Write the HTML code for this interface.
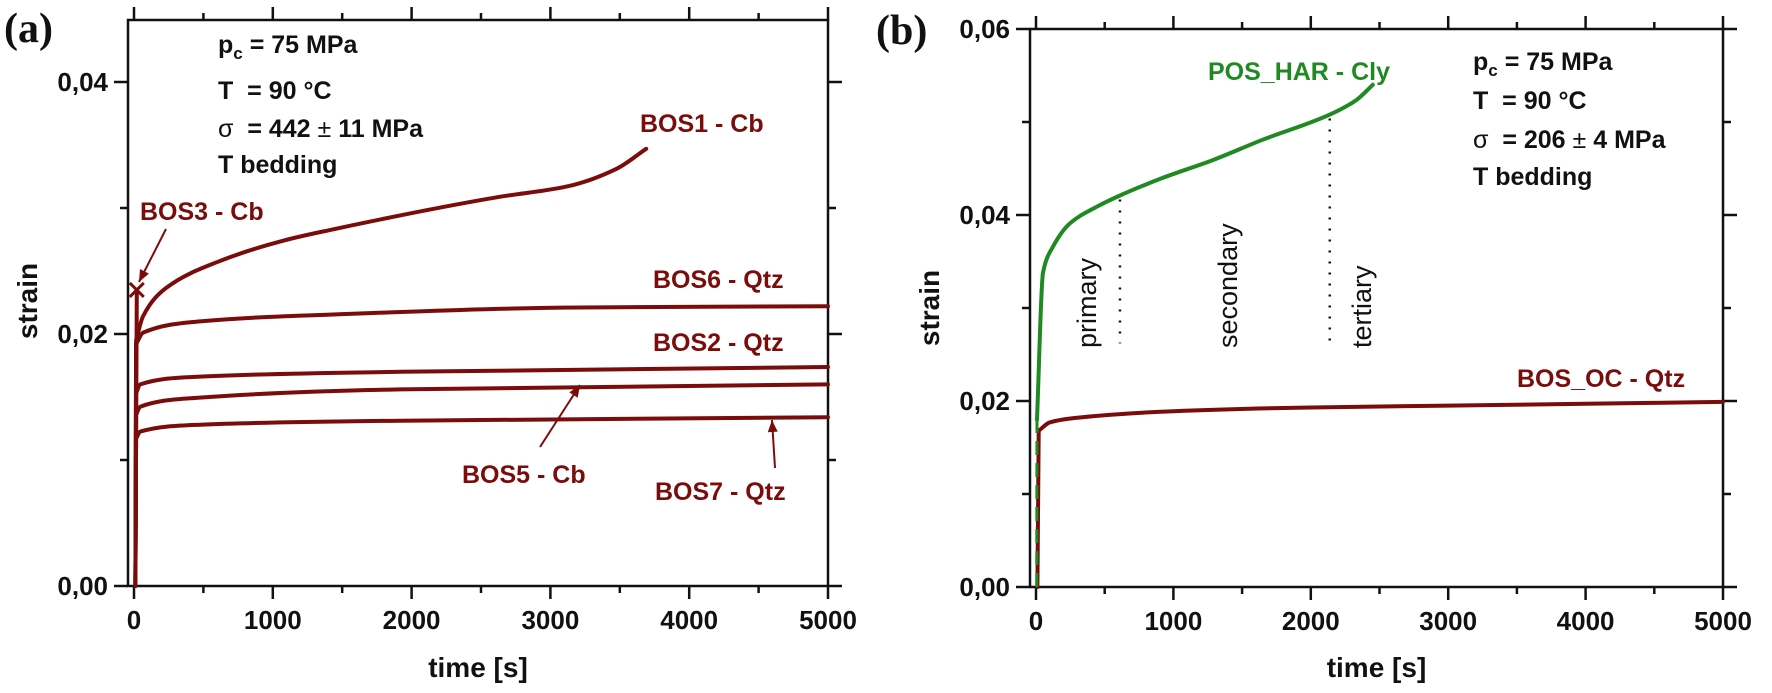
<!DOCTYPE html>
<html><head><meta charset="utf-8"><style>
html,body{margin:0;padding:0;background:#fff;}
svg{display:block;font-family:"Liberation Sans",Arial,sans-serif;}
.tick{font-size:26px;font-weight:bold;fill:#111;}
.title{font-size:28px;font-weight:bold;fill:#111;}
.ann{font-size:25px;font-weight:bold;fill:#111;}
.lbl{font-size:25px;font-weight:bold;fill:#7a0c0c;}
.phase{font-size:27px;fill:#111;}
</style></head><body>
<svg id="fig" width="1772" height="693" viewBox="0 0 1772 693">
<g id="pa"></g>
<g id="pb"></g>
</svg>
<script>
// ---- Panel (a) data ----
const aTime_BOS1 = [10, 15, 65, 237, 597, 1072, 1432, 2640, 3115, 3475, 3690];
const aStrain_BOS1 = [0, 0.0195, 0.0214, 0.0237, 0.0257, 0.0274, 0.0283, 0.0309, 0.0317, 0.0331, 0.0347];
const aTime_BOS6 = [10, 15, 65, 475, 1432, 3209, 5000];
const aStrain_BOS6 = [0, 0.0192, 0.0201, 0.0210, 0.02155, 0.0221, 0.0222];
const aTime_BOS2 = [10, 15, 45, 475, 1914, 5000];
const aStrain_BOS2 = [0, 0.0153, 0.0160, 0.01662, 0.0170, 0.01738];
const aTime_BOS5 = [10, 15, 45, 475, 1914, 5000];
const aStrain_BOS5 = [0, 0.0136, 0.01423, 0.01495, 0.0156, 0.0160];
const aTime_BOS7 = [10, 15, 45, 475, 1914, 5000];
const aStrain_BOS7 = [0, 0.0117, 0.01225, 0.0128, 0.01312, 0.0134];
const aTime_BOS3 = [10, 20];
const aStrain_BOS3 = [0, 0.0235];
const aYTicks = [0, 0.02, 0.04];
const aYTickLabels = ["0,00", "0,02", "0,04"];
const xTicks = [0, 1000, 2000, 3000, 4000, 5000];
const xTickLabels = ["0", "1000", "2000", "3000", "4000", "5000"];
// ---- Panel (b) data ----
const bTime_HAR = [5, 7, 51, 124, 247, 444, 611, 924, 1287, 1651, 2138, 2335, 2451];
const bStrain_HAR = [0.0, 0.018, 0.0338, 0.0366, 0.0391, 0.0409, 0.0421, 0.0440, 0.0459, 0.0481, 0.0508, 0.0524, 0.054];
const bTime_OC = [10, 20, 100, 300, 1000, 2000, 3000, 4000, 5000];
const bStrain_OC = [0, 0.0168, 0.0177, 0.0182, 0.0189, 0.0193, 0.0195, 0.0197, 0.0199];
const bPhaseBounds = [611, 2138];
const bYTicks = [0, 0.02, 0.04, 0.06];
const bYTickLabels = ["0,00", "0,02", "0,04", "0,06"];

const NS = "http://www.w3.org/2000/svg";
function mk(parent, tag, attrs, text){
  const e = document.createElementNS(NS, tag);
  for (const k in attrs) e.setAttribute(k, attrs[k]);
  if (text !== undefined) e.textContent = text;
  parent.appendChild(e);
  return e;
}
function axes(g, o){
  const sx = t => o.x0 + t * o.kx;
  const sy = v => o.y0 - v * o.ky;
  const frame = mk(g, "rect", {x:o.left, y:o.top, width:o.right-o.left, height:o.y0-o.top, fill:"none", stroke:"#111", "stroke-width":2.5});
  
  
  for (let t = 0; t <= 5000; t += 500){
    const major = t % 1000 === 0, L = major ? 13 : 7;
    const x = sx(t);
    const tb = mk(g, "line", {x1:x, x2:x, y1:o.y0, y2:o.y0+L, stroke:"#111", "stroke-width":2.5});
    
    
    const tt = mk(g, "line", {x1:x, x2:x, y1:o.top, y2:o.top-L, stroke:"#111", "stroke-width":2.5});
    
    
  }
  xTicks.forEach((t, i) => {
    const lab = mk(g, "text", {x:sx(t), y:o.y0+43, "text-anchor":"middle", class:"tick"}, xTickLabels[i]);
    
    
  });
  for (let v = 0; v <= o.ymax + 1e-9; v += 0.01){
    const major = Math.round(v*100) % 2 === 0, L = major ? 14 : 8;
    const y = sy(v);
    const tl = mk(g, "line", {x1:o.left, x2:o.left-L, y1:y, y2:y, stroke:"#111", "stroke-width":2.5});
    
    
    const tr = mk(g, "line", {x1:o.right, x2:o.right+L, y1:y, y2:y, stroke:"#111", "stroke-width":2.5});
    
    
  }
  o.yt.forEach((v, i) => {
    const lab = mk(g, "text", {x:o.left-20, y:sy(v)+9, "text-anchor":"end", class:"tick"}, o.ytl[i]);
    
    
  });
  const xt = mk(g, "text", {x:(o.left+o.right)/2, y:677, "text-anchor":"middle", class:"title"}, "time [s]");
  
  
  const yt = mk(g, "text", {x:0, y:0, "text-anchor":"middle", class:"title", transform:`translate(${o.ytx},${o.yty}) rotate(-90)`}, "strain");
  
  
  return {sx, sy};
}
function monoPath(P){
  const n = P.length;
  if (n < 3) return P.map((p,i)=>(i?"L":"M")+p[0].toFixed(1)+","+p[1].toFixed(1)).join(" ");
  const d = [], m = [];
  for (let i = 0; i < n-1; i++) d.push((P[i+1][1]-P[i][1])/(P[i+1][0]-P[i][0]));
  m[0] = d[0]; m[n-1] = d[n-2];
  for (let i = 1; i < n-1; i++){
    if (d[i-1]*d[i] <= 0) m[i] = 0;
    else { const h0 = P[i][0]-P[i-1][0], h1 = P[i+1][0]-P[i][0];
      const w1 = 2*h1+h0, w2 = h1+2*h0; m[i] = (w1+w2)/(w1/d[i-1]+w2/d[i]); }
  }
  let s = "M" + P[0][0].toFixed(1) + "," + P[0][1].toFixed(1);
  for (let i = 0; i < n-1; i++){
    const h = P[i+1][0]-P[i][0];
    s += ` C${(P[i][0]+h/3).toFixed(1)},${(P[i][1]+m[i]*h/3).toFixed(1)} ${(P[i+1][0]-h/3).toFixed(1)},${(P[i+1][1]-m[i+1]*h/3).toFixed(1)} ${P[i+1][0].toFixed(1)},${P[i+1][1].toFixed(1)}`;
  }
  return s;
}
function series(g, s, ts, vs, color, name, extra, smoothAll){
  const pts = ts.map((t, i) => [s.sx(t), s.sy(vs[i])]);
  let d;
  if (smoothAll) d = monoPath(pts);
  else {
    d = "M" + pts[0][0].toFixed(1) + "," + pts[0][1].toFixed(1);
    if (pts.length > 1) d += " L" + monoPath(pts.slice(1)).slice(1);
  }
  const p = mk(g, "path", Object.assign({d, fill:"none", stroke:color, "stroke-width":4, "stroke-linejoin":"round", "stroke-linecap":"round"}, extra||{}));
  
  
  return p;
}
function text(g, x, y, cls, str, name, fill){
  const t = mk(g, "text", {x, y, class:cls});
  if (fill) t.setAttribute("style", "fill:" + fill);
  t.innerHTML = str;
  
  
  return t;
}
function arrow(g, x1, y1, x2, y2, color, name){
  const a = mk(g, "g", {});
  
  
  mk(a, "line", {x1, y1, x2, y2, stroke:color, "stroke-width":2});
  const ang = Math.atan2(y2-y1, x2-x1), L = 12, W = 5;
  const bx = x2 - L*Math.cos(ang), by = y2 - L*Math.sin(ang);
  const px = -Math.sin(ang)*W, py = Math.cos(ang)*W;
  mk(a, "polygon", {points:`${x2},${y2} ${bx+px},${by+py} ${bx-px},${by-py}`, fill:color});
}
const RED = "#7a0c0c", GREEN = "#1f8a22";

// ---- Panel A ----
const ga = document.getElementById("pa");
const sa = axes(ga, {x0:134, kx:0.1388, y0:586, ky:12600, left:128, right:828, top:20, ymax:0.04,
  yt:aYTicks, ytl:aYTickLabels, ytx:37, yty:301});
series(ga, sa, aTime_BOS7, aStrain_BOS7, RED, "series-bos7");
series(ga, sa, aTime_BOS5, aStrain_BOS5, RED, "series-bos5");
series(ga, sa, aTime_BOS2, aStrain_BOS2, RED, "series-bos2");
series(ga, sa, aTime_BOS6, aStrain_BOS6, RED, "series-bos6");
series(ga, sa, aTime_BOS1, aStrain_BOS1, RED, "series-bos1");
series(ga, sa, aTime_BOS3, aStrain_BOS3, RED, "series-bos3");
{
  const n = aTime_BOS3.length - 1, cx = sa.sx(aTime_BOS3[n]), cy = sa.sy(aStrain_BOS3[n]);
  const m = mk(ga, "path", {d:`M${cx-7},${cy-7} L${cx+7},${cy+7} M${cx+7},${cy-7} L${cx-7},${cy+7}`, stroke:RED, "stroke-width":3});
  
  
}
text(ga, 218, 53, "ann", 'p<tspan font-size="17" dy="6">c</tspan><tspan dy="-6"> = 75 MPa</tspan>', "annotation-pc");
text(ga, 218, 99, "ann", 'T&#160; = 90 °C', "annotation-temperature");
text(ga, 218, 137, "ann", '<tspan font-weight="normal">σ</tspan>&#160; = 442 <tspan font-weight="normal">±</tspan> 11 MPa', "annotation-stress");
text(ga, 218, 173, "ann", 'T bedding', "annotation-bedding");
text(ga, 140, 220, "lbl", 'BOS3 - Cb', "label-bos3");
text(ga, 640, 132, "lbl", 'BOS1 - Cb', "label-bos1");
text(ga, 653, 288, "lbl", 'BOS6 - Qtz', "label-bos6");
text(ga, 653, 351, "lbl", 'BOS2 - Qtz', "label-bos2");
text(ga, 462, 483, "lbl", 'BOS5 - Cb', "label-bos5");
text(ga, 655, 500, "lbl", 'BOS7 - Qtz', "label-bos7");
arrow(ga, 166, 229, 139, 282, RED, "arrow-bos3");
arrow(ga, 540, 447, 580, 385, RED, "arrow-bos5");
arrow(ga, 775, 468, 772, 420, RED, "arrow-bos7");
{
  const t = mk(ga, "text", {x:4, y:42, "font-family":"Liberation Serif, serif", "font-size":42, "font-weight":"bold", fill:"#111"}, "(a)");
  
  
}

// ---- Panel B ----
const gb = document.getElementById("pb");
const sb = axes(gb, {x0:1036, kx:0.1374, y0:587, ky:9300, left:1030, right:1723, top:29, ymax:0.06,
  yt:bYTicks, ytl:bYTickLabels, ytx:939, yty:308});
series(gb, sb, bTime_OC, bStrain_OC, RED, "series-bos-oc");
series(gb, sb, bTime_HAR.slice(0,2), bStrain_HAR.slice(0,2), GREEN, "series-pos-har-initial", {"stroke-dasharray":"14 8", "stroke-linecap":"butt", "stroke-width":3});
series(gb, sb, bTime_HAR.slice(1), bStrain_HAR.slice(1), GREEN, "series-pos-har", null, true);
bPhaseBounds.forEach((t, i) => {
  const x = sb.sx(t);
  let v = 0;
  for (let k = 1; k < bTime_HAR.length; k++) if (t <= bTime_HAR[k]) { const f = (t-bTime_HAR[k-1])/(bTime_HAR[k]-bTime_HAR[k-1]); v = bStrain_HAR[k-1] + f*(bStrain_HAR[k]-bStrain_HAR[k-1]); break; }
  const l = mk(gb, "line", {x1:x, x2:x, y1:sb.sy(v)+4, y2:sb.sy(0.0262), stroke:"#111", "stroke-width":2.5, "stroke-dasharray":"2 9"});
  
  
});
[["primary",1096],["secondary",1237],["tertiary",1371]].forEach(p => {
  const t = mk(gb, "text", {x:0, y:0, class:"phase", transform:`translate(${p[1]},348) rotate(-90)`}, p[0]);
  
  
});
text(gb, 1208, 80, "lbl", 'POS_HAR - Cly', "label-pos-har", GREEN);
text(gb, 1517, 387, "lbl", 'BOS_OC - Qtz', "label-bos-oc");
text(gb, 1473, 70, "ann", 'p<tspan font-size="17" dy="6">c</tspan><tspan dy="-6"> = 75 MPa</tspan>', "annotation-pc-b");
text(gb, 1473, 109, "ann", 'T&#160; = 90 °C', "annotation-temperature-b");
text(gb, 1473, 148, "ann", '<tspan font-weight="normal">σ</tspan>&#160; = 206 <tspan font-weight="normal">±</tspan> 4 MPa', "annotation-stress-b");
text(gb, 1473, 185, "ann", 'T bedding', "annotation-bedding-b");
{
  const t = mk(gb, "text", {x:876, y:44, "font-family":"Liberation Serif, serif", "font-size":42, "font-weight":"bold", fill:"#111"}, "(b)");
  
  
}
</script>
</body></html>
